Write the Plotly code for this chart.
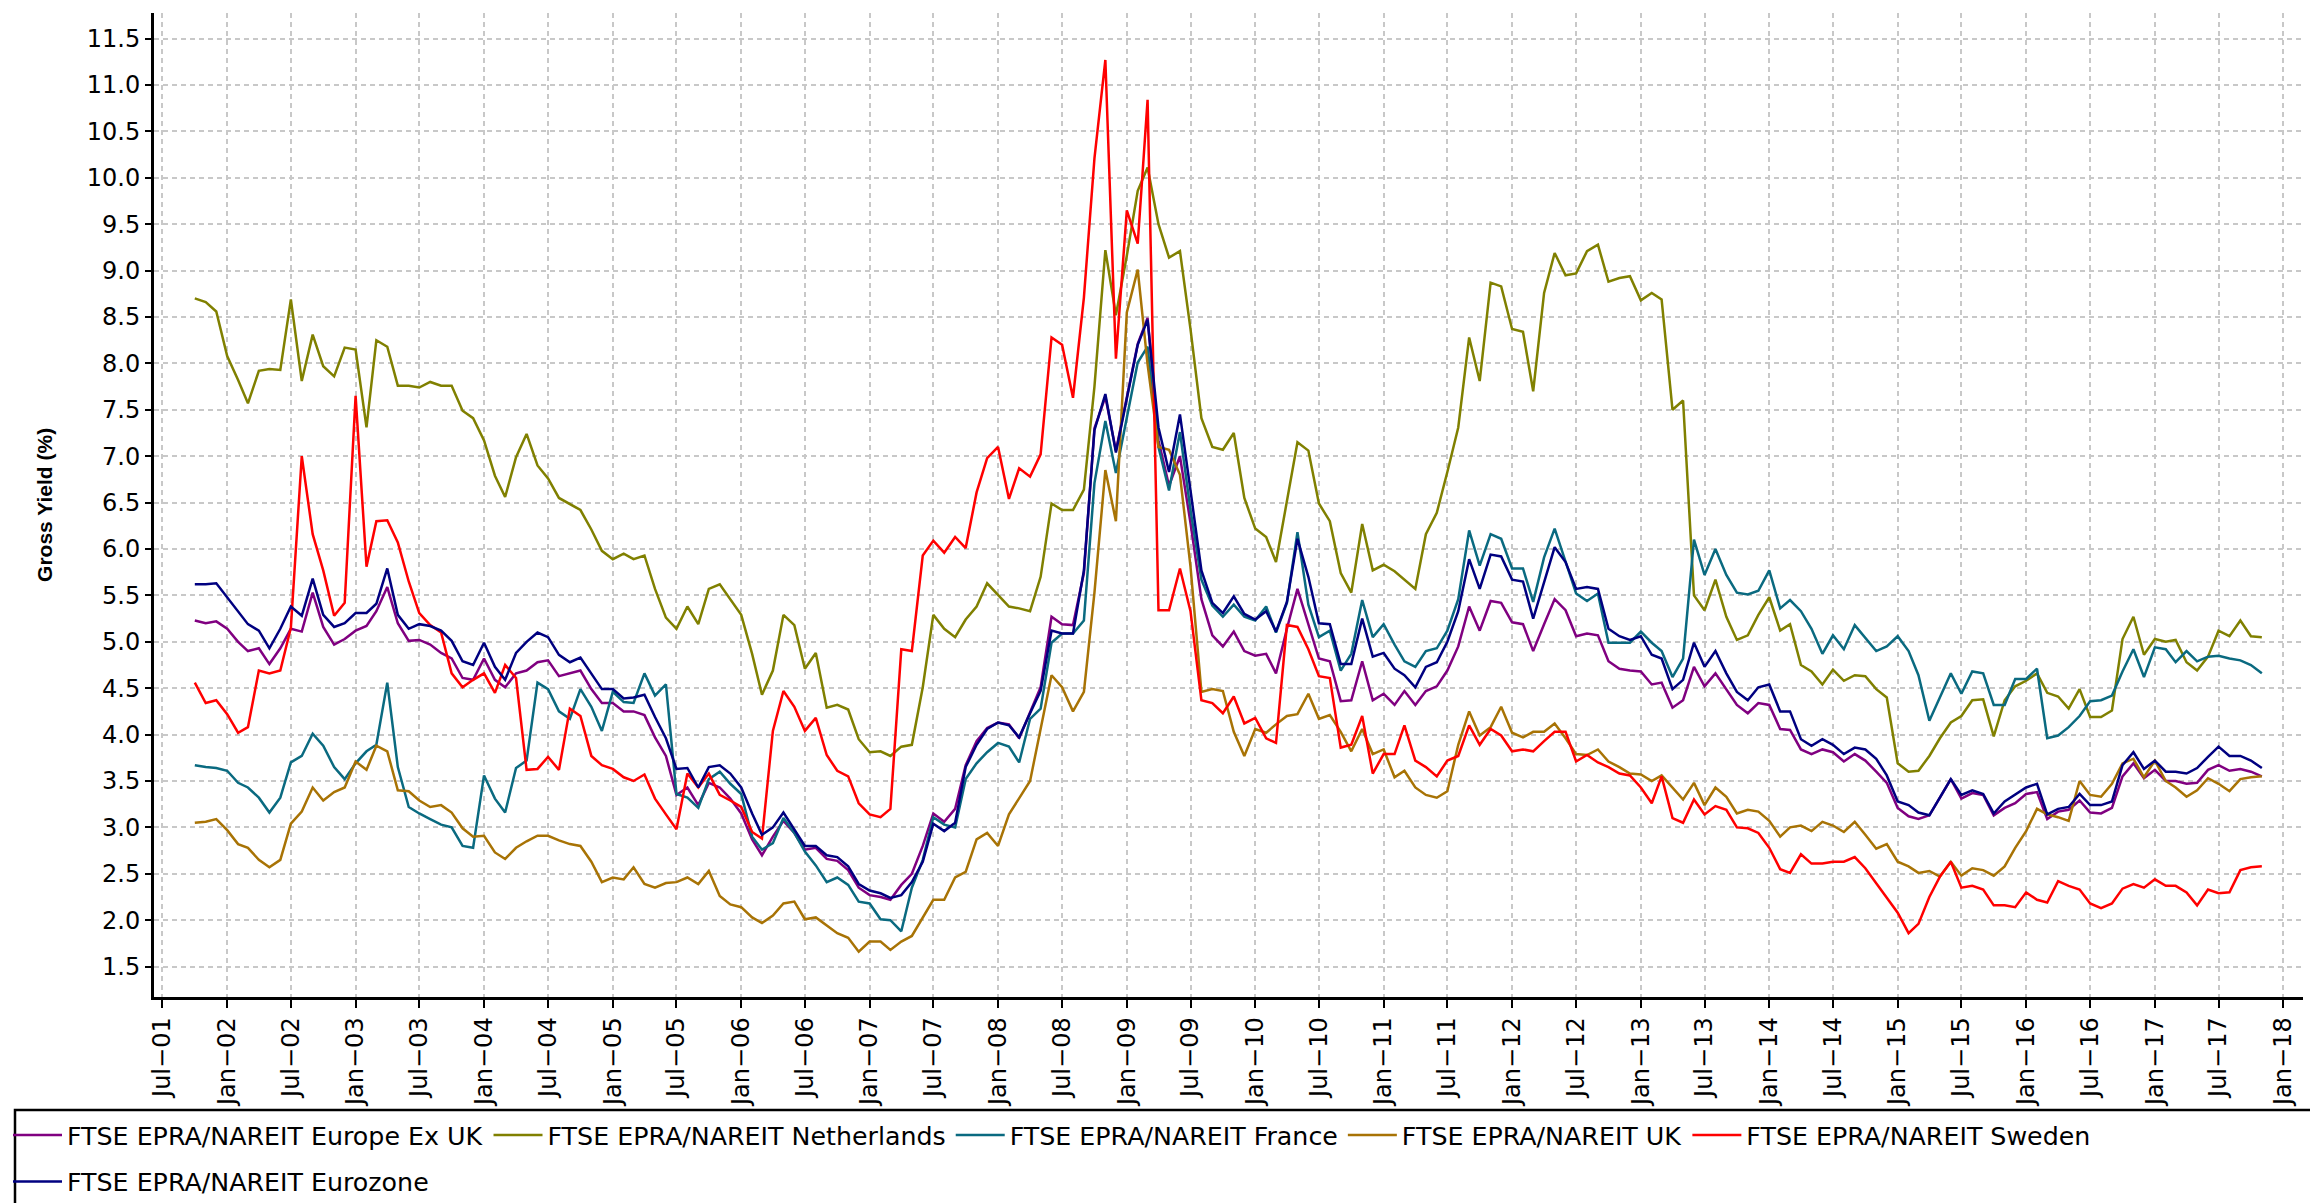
import pandas as pd
import plotly.graph_objects as go

# ---------------- data (monthly, Oct-2001 .. Nov-2017) ----------------
months = pd.date_range("2001-10-01", periods=194, freq="MS")

europe_ex_uk = [
    5.23, 5.20, 5.22, 5.14, 5.00, 4.90, 4.93, 4.76, 4.93, 5.14,
    5.11, 5.53, 5.16, 4.97, 5.03, 5.12, 5.17, 5.33, 5.59, 5.20,
    5.01, 5.02, 4.97, 4.88, 4.82, 4.61, 4.59, 4.82, 4.59, 4.51,
    4.66, 4.69, 4.78, 4.80, 4.63, 4.66, 4.69, 4.49, 4.34, 4.34,
    4.25, 4.25, 4.21, 3.97, 3.77, 3.35, 3.43, 3.24, 3.48, 3.43,
    3.31, 3.15, 2.87, 2.70, 2.90, 3.07, 2.94, 2.76, 2.78, 2.66,
    2.64, 2.54, 2.35, 2.27, 2.25, 2.22, 2.38, 2.50, 2.80, 3.15,
    3.06, 3.20, 3.67, 3.93, 4.07, 4.13, 4.11, 3.96, 4.23, 4.51,
    5.27, 5.19, 5.18, 5.74, 7.30, 7.64, 7.06, 7.65, 8.21, 8.49,
    7.17, 6.68, 7.00, 6.28, 5.46, 5.07, 4.95, 5.11, 4.90, 4.85,
    4.87, 4.66, 5.14, 5.57, 5.20, 4.82, 4.79, 4.36, 4.37, 4.79,
    4.37, 4.44, 4.32, 4.47, 4.32, 4.47, 4.52, 4.69, 4.95, 5.38,
    5.12, 5.44, 5.42, 5.21, 5.19, 4.90, 5.19, 5.46, 5.34, 5.06,
    5.09, 5.07, 4.79, 4.71, 4.69, 4.68, 4.54, 4.56, 4.29, 4.37,
    4.73, 4.52, 4.66, 4.49, 4.32, 4.23, 4.34, 4.32, 4.06, 4.05,
    3.84, 3.79, 3.84, 3.81, 3.71, 3.79, 3.72, 3.60, 3.48, 3.21,
    3.12, 3.09, 3.13, 3.32, 3.52, 3.31, 3.37, 3.35, 3.13, 3.21,
    3.26, 3.36, 3.38, 3.09, 3.17, 3.19, 3.29, 3.16, 3.15, 3.21,
    3.55, 3.69, 3.53, 3.62, 3.50, 3.50, 3.47, 3.48, 3.62, 3.67,
    3.61, 3.63, 3.60, 3.55,
]

netherlands = [
    8.70, 8.66, 8.56, 8.08, 7.82, 7.57, 7.92, 7.94, 7.93, 8.69,
    7.81, 8.31, 7.97, 7.86, 8.17, 8.15, 7.31, 8.25, 8.18, 7.76,
    7.76, 7.74, 7.80, 7.76, 7.76, 7.49, 7.41, 7.17, 6.79, 6.56,
    6.99, 7.24, 6.90, 6.76, 6.55, 6.48, 6.42, 6.21, 5.98, 5.89,
    5.95, 5.89, 5.93, 5.57, 5.26, 5.14, 5.38, 5.19, 5.57, 5.62,
    5.46, 5.29, 4.87, 4.43, 4.69, 5.29, 5.18, 4.71, 4.88, 4.29,
    4.32, 4.27, 3.95, 3.81, 3.82, 3.77, 3.87, 3.89, 4.51, 5.29,
    5.14, 5.05, 5.24, 5.38, 5.63, 5.51, 5.38, 5.36, 5.33, 5.70,
    6.49, 6.42, 6.42, 6.64, 7.75, 9.22, 8.52, 9.16, 9.86, 10.11,
    9.50, 9.14, 9.21, 8.37, 7.41, 7.10, 7.07, 7.25, 6.55, 6.22,
    6.13, 5.86, 6.50, 7.15, 7.06, 6.49, 6.30, 5.74, 5.53, 6.27,
    5.77, 5.83, 5.76, 5.67, 5.57, 6.16, 6.39, 6.83, 7.31, 8.28,
    7.81, 8.87, 8.83, 8.37, 8.34, 7.70, 8.76, 9.19, 8.95, 8.97,
    9.21, 9.28, 8.88, 8.92, 8.94, 8.68, 8.76, 8.69, 7.50, 7.60,
    5.50, 5.34, 5.67, 5.27, 5.02, 5.07, 5.29, 5.48, 5.12, 5.19,
    4.75, 4.68, 4.54, 4.70, 4.58, 4.64, 4.63, 4.49, 4.40, 3.69,
    3.60, 3.61, 3.77, 3.96, 4.13, 4.20, 4.37, 4.38, 3.98, 4.37,
    4.52, 4.58, 4.66, 4.45, 4.41, 4.28, 4.49, 4.19, 4.19, 4.26,
    5.03, 5.27, 4.86, 5.03, 5.00, 5.02, 4.78, 4.69, 4.84, 5.12,
    5.06, 5.23, 5.06, 5.05,
]

france = [
    3.67, 3.65, 3.64, 3.61, 3.48, 3.43, 3.32, 3.16, 3.32, 3.70,
    3.77, 4.01, 3.88, 3.65, 3.52, 3.69, 3.82, 3.89, 4.56, 3.65,
    3.22, 3.15, 3.09, 3.03, 3.00, 2.80, 2.78, 3.56, 3.31, 3.16,
    3.64, 3.72, 4.56, 4.49, 4.25, 4.17, 4.49, 4.30, 4.04, 4.46,
    4.35, 4.34, 4.66, 4.42, 4.54, 3.36, 3.32, 3.21, 3.52, 3.60,
    3.47, 3.36, 2.90, 2.76, 2.83, 3.10, 2.94, 2.74, 2.59, 2.41,
    2.46, 2.38, 2.20, 2.18, 2.01, 2.00, 1.88, 2.35, 2.65, 3.11,
    3.03, 3.00, 3.52, 3.69, 3.81, 3.91, 3.87, 3.70, 4.17, 4.28,
    4.99, 5.09, 5.09, 5.23, 6.71, 7.38, 6.82, 7.41, 8.01, 8.18,
    7.10, 6.63, 7.26, 6.42, 5.67, 5.39, 5.27, 5.40, 5.27, 5.23,
    5.38, 5.10, 5.42, 6.18, 5.40, 5.05, 5.12, 4.69, 4.87, 5.45,
    5.05, 5.19, 4.97, 4.79, 4.73, 4.90, 4.93, 5.12, 5.46, 6.20,
    5.82, 6.16, 6.11, 5.79, 5.79, 5.43, 5.91, 6.22, 5.87, 5.52,
    5.44, 5.52, 4.99, 4.99, 4.99, 5.11, 4.99, 4.90, 4.62, 4.82,
    6.10, 5.72, 6.00, 5.72, 5.53, 5.51, 5.55, 5.77, 5.36, 5.45,
    5.33, 5.14, 4.87, 5.07, 4.92, 5.18, 5.04, 4.90, 4.95, 5.06,
    4.90, 4.64, 4.15, 4.41, 4.66, 4.44, 4.68, 4.66, 4.32, 4.32,
    4.60, 4.60, 4.71, 3.96, 3.99, 4.08, 4.20, 4.36, 4.37, 4.42,
    4.68, 4.92, 4.62, 4.94, 4.92, 4.78, 4.90, 4.79, 4.84, 4.85,
    4.82, 4.80, 4.75, 4.66,
]

uk = [
    3.05, 3.06, 3.09, 2.97, 2.82, 2.78, 2.65, 2.57, 2.65, 3.04,
    3.17, 3.43, 3.29, 3.38, 3.43, 3.71, 3.62, 3.88, 3.82, 3.40,
    3.39, 3.29, 3.22, 3.24, 3.16, 2.99, 2.90, 2.91, 2.73, 2.66,
    2.78, 2.85, 2.91, 2.91, 2.86, 2.82, 2.80, 2.63, 2.41, 2.46,
    2.44, 2.57, 2.39, 2.35, 2.40, 2.41, 2.46, 2.39, 2.53, 2.26,
    2.17, 2.14, 2.03, 1.97, 2.05, 2.18, 2.20, 2.01, 2.03, 1.94,
    1.86, 1.81, 1.66, 1.77, 1.77, 1.68, 1.77, 1.83, 2.03, 2.22,
    2.22, 2.46, 2.52, 2.87, 2.94, 2.80, 3.14, 3.31, 3.50, 4.06,
    4.64, 4.51, 4.25, 4.46, 5.53, 6.85, 6.30, 8.55, 9.01, 7.99,
    7.10, 7.07, 6.80, 5.81, 4.46, 4.49, 4.47, 4.03, 3.77, 4.06,
    4.02, 4.11, 4.20, 4.22, 4.44, 4.17, 4.21, 4.03, 3.82, 4.06,
    3.79, 3.84, 3.54, 3.61, 3.43, 3.35, 3.32, 3.39, 3.89, 4.25,
    3.99, 4.08, 4.30, 4.02, 3.97, 4.03, 4.03, 4.12, 3.96, 3.79,
    3.78, 3.84, 3.71, 3.65, 3.58, 3.57, 3.50, 3.56, 3.43, 3.30,
    3.48, 3.24, 3.43, 3.33, 3.15, 3.19, 3.17, 3.07, 2.90, 3.00,
    3.02, 2.96, 3.06, 3.02, 2.95, 3.06, 2.92, 2.77, 2.82, 2.63,
    2.58, 2.51, 2.53, 2.47, 2.63, 2.48, 2.56, 2.54, 2.48, 2.58,
    2.78, 2.96, 3.20, 3.14, 3.11, 3.07, 3.50, 3.35, 3.33, 3.47,
    3.69, 3.74, 3.54, 3.72, 3.50, 3.43, 3.33, 3.40, 3.53, 3.47,
    3.39, 3.52, 3.54, 3.55,
]

sweden = [
    4.56, 4.34, 4.37, 4.22, 4.02, 4.08, 4.69, 4.66, 4.69, 5.15,
    7.00, 6.16, 5.77, 5.28, 5.42, 7.65, 5.81, 6.30, 6.31, 6.07,
    5.65, 5.31, 5.18, 5.10, 4.66, 4.51, 4.59, 4.66, 4.45, 4.75,
    4.61, 3.62, 3.63, 3.76, 3.62, 4.28, 4.20, 3.77, 3.67, 3.63,
    3.54, 3.50, 3.57, 3.31, 3.14, 2.98, 3.58, 3.43, 3.58, 3.35,
    3.29, 3.22, 2.95, 2.88, 4.04, 4.47, 4.30, 4.04, 4.18, 3.78,
    3.61, 3.55, 3.26, 3.14, 3.11, 3.20, 4.92, 4.90, 5.93, 6.09,
    5.96, 6.13, 6.01, 6.61, 6.98, 7.10, 6.54, 6.87, 6.78, 7.02,
    8.28, 8.20, 7.63, 8.71, 10.21, 11.27, 8.05, 9.65, 9.29, 10.84,
    5.34, 5.34, 5.79, 5.33, 4.37, 4.34, 4.23, 4.41, 4.12, 4.18,
    3.96, 3.91, 5.18, 5.16, 4.92, 4.63, 4.61, 3.86, 3.89, 4.20,
    3.58, 3.79, 3.79, 4.10, 3.72, 3.65, 3.55, 3.72, 3.77, 4.10,
    3.89, 4.06, 3.99, 3.82, 3.84, 3.82, 3.93, 4.03, 4.03, 3.71,
    3.78, 3.70, 3.65, 3.58, 3.56, 3.43, 3.26, 3.55, 3.10, 3.05,
    3.30, 3.14, 3.23, 3.19, 3.00, 2.99, 2.94, 2.78, 2.55, 2.51,
    2.71, 2.61, 2.61, 2.63, 2.63, 2.68, 2.56, 2.40, 2.25, 2.08,
    1.86, 1.96, 2.25, 2.47, 2.63, 2.35, 2.37, 2.33, 2.16, 2.16,
    2.14, 2.30, 2.22, 2.19, 2.42, 2.37, 2.33, 2.18, 2.13, 2.18,
    2.34, 2.39, 2.35, 2.44, 2.37, 2.37, 2.30, 2.16, 2.33, 2.29,
    2.30, 2.54, 2.57, 2.58,
]

eurozone = [
    5.62, 5.62, 5.63, 5.48, 5.33, 5.19, 5.12, 4.93, 5.14, 5.38,
    5.28, 5.68, 5.29, 5.16, 5.20, 5.31, 5.31, 5.41, 5.79, 5.29,
    5.14, 5.19, 5.17, 5.12, 5.01, 4.79, 4.75, 4.99, 4.73, 4.59,
    4.88, 5.00, 5.10, 5.05, 4.86, 4.78, 4.83, 4.66, 4.49, 4.49,
    4.39, 4.40, 4.43, 4.19, 3.96, 3.63, 3.64, 3.43, 3.65, 3.67,
    3.58, 3.43, 3.15, 2.92, 3.00, 3.16, 2.98, 2.80, 2.80, 2.70,
    2.68, 2.58, 2.39, 2.32, 2.29, 2.24, 2.27, 2.41, 2.63, 3.04,
    2.96, 3.05, 3.65, 3.89, 4.06, 4.13, 4.10, 3.97, 4.23, 4.47,
    5.12, 5.09, 5.09, 5.77, 7.28, 7.67, 7.04, 7.62, 8.20, 8.47,
    7.31, 6.83, 7.45, 6.63, 5.77, 5.42, 5.31, 5.49, 5.30, 5.24,
    5.33, 5.11, 5.43, 6.11, 5.70, 5.20, 5.19, 4.76, 4.76, 5.25,
    4.84, 4.88, 4.71, 4.64, 4.51, 4.73, 4.78, 5.00, 5.33, 5.89,
    5.57, 5.94, 5.92, 5.67, 5.65, 5.25, 5.64, 6.02, 5.86, 5.57,
    5.59, 5.57, 5.14, 5.06, 5.02, 5.06, 4.86, 4.82, 4.49, 4.59,
    4.99, 4.73, 4.90, 4.66, 4.46, 4.37, 4.51, 4.54, 4.25, 4.25,
    3.95, 3.88, 3.95, 3.89, 3.79, 3.86, 3.84, 3.74, 3.56, 3.28,
    3.24, 3.16, 3.13, 3.32, 3.52, 3.35, 3.40, 3.36, 3.15, 3.28,
    3.35, 3.43, 3.47, 3.14, 3.20, 3.22, 3.36, 3.24, 3.24, 3.28,
    3.67, 3.81, 3.63, 3.72, 3.60, 3.60, 3.58, 3.64, 3.76, 3.87,
    3.77, 3.77, 3.72, 3.64,
]

series_names = [
    "FTSE EPRA/NAREIT Europe Ex UK",
    "FTSE EPRA/NAREIT Netherlands",
    "FTSE EPRA/NAREIT France",
    "FTSE EPRA/NAREIT UK",
    "FTSE EPRA/NAREIT Sweden",
    "FTSE EPRA/NAREIT Eurozone",
]

tick_dates = pd.date_range("2001-07-01", "2018-01-01", freq="6MS")
tick_labels = [
    "Jul\u221201", "Jan\u221202", "Jul\u221202", "Jan\u221203", "Jul\u221203",
    "Jan\u221204", "Jul\u221204", "Jan\u221205", "Jul\u221205", "Jan\u221206",
    "Jul\u221206", "Jan\u221207", "Jul\u221207", "Jan\u221208", "Jul\u221208",
    "Jan\u221209", "Jul\u221209", "Jan\u221210", "Jul\u221210", "Jan\u221211",
    "Jul\u221211", "Jan\u221212", "Jul\u221212", "Jan\u221213", "Jul\u221213",
    "Jan\u221214", "Jul\u221214", "Jan\u221215", "Jul\u221215", "Jan\u221216",
    "Jul\u221216", "Jan\u221217", "Jul\u221217", "Jan\u221218",
]

# ---------------- styling ----------------
series_values = [europe_ex_uk, netherlands, france, uk, sweden, eurozone]
colors = ["#800080", "#808000", "#0A6A80", "#A87305", "#FF0000", "#000080"]
legend_ids = ["legend", "legend", "legend", "legend", "legend", "legend2"]

W, H = 2318, 1203
L, R, T, B = 146, 23, 5, 210
PW, PH = W - L - R, H - T - B


def px_x(p):
    return (p - L) / PW


def px_y(p):
    return (H - B - p) / PH


fig = go.Figure()
for name, vals, col, lg in zip(series_names, series_values, colors, legend_ids):
    fig.add_trace(go.Scatter(
        x=months, y=vals, name=name, mode="lines",
        line=dict(color=col, width=2.5), legend=lg,
    ))

grid = dict(showgrid=True, gridcolor="#c8c8c8", gridwidth=1.5, griddash="5px,4px")
tick_font = dict(family="DejaVu Sans", size=24, color="#000000")
legend_font = dict(family="DejaVu Sans", size=25.3, color="#000000")

fig.update_layout(
    width=W, height=H, autosize=False,
    margin=dict(l=L, r=R, t=T, b=B, pad=0),
    paper_bgcolor="white", plot_bgcolor="white",
    font=dict(family="DejaVu Sans", color="#000000"),
    xaxis=dict(
        type="date", range=["2001-06-07", "2018-02-26"],
        tickmode="array", tickvals=tick_dates, ticktext=tick_labels,
        tickangle=-90, tickfont=tick_font,
        showline=True, linecolor="#000000", linewidth=3,
        ticks="outside", ticklen=8, tickwidth=2, tickcolor="#000000",
        zeroline=False, **grid,
    ),
    yaxis=dict(
        range=[1.175, 11.776], tick0=1.5, dtick=0.5, tickformat=".1f",
        tickfont=tick_font,
        showline=True, linecolor="#000000", linewidth=3,
        ticks="outside", ticklen=6, tickwidth=2, tickcolor="#000000",
        zeroline=False, **grid,
        title=dict(text="<b>Gross Yield (%)</b>",
                   font=dict(family="Liberation Sans", size=21, color="#000000"),
                   standoff=29),
    ),
    legend=dict(
        orientation="h", xref="container", yref="container",
        x=0, y=1 - 1104 / H, xanchor="left", yanchor="top",
        font=legend_font,
        bgcolor="rgba(0,0,0,0)", borderwidth=0, itemwidth=49,
    ),
    legend2=dict(
        orientation="h", xref="container", yref="container",
        x=0, y=1 - 1150.6 / H, xanchor="left", yanchor="top",
        font=legend_font,
        bgcolor="rgba(0,0,0,0)", borderwidth=0, itemwidth=49,
    ),
    shapes=[dict(
        type="rect", xref="paper", yref="paper",
        x0=px_x(7), x1=px_x(2311), y0=px_y(1215), y1=px_y(1106.7),
        line=dict(color="#000000", width=2.5), fillcolor="rgba(0,0,0,0)",
        layer="above",
    )],
)

fig.write_html("out.html")
